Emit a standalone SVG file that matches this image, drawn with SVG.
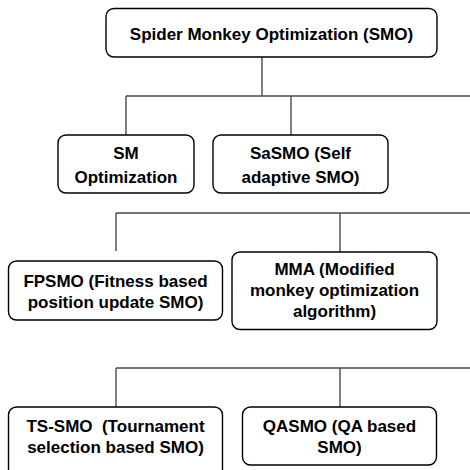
<svg xmlns="http://www.w3.org/2000/svg" width="470" height="470" viewBox="0 0 470 470">
<style>
.box{fill:#fff;stroke:#000;stroke-width:1.4}
.lbl{font-family:"Liberation Sans",Arial,sans-serif;font-weight:bold;font-size:17px;fill:#000;text-anchor:middle;white-space:pre}
.con{fill:none;stroke:#4a4a4a;stroke-width:1.4}
</style>
<rect width="470" height="470" fill="#fff"/>
<g id="connectors">
<path class="con" d="M262,57 V96 M126,96 H470 M126,96 V135 M291,96 V135"/>
<path class="con" d="M116,213 H470 M116,213 V251 M340,213 V252"/>
<path class="con" d="M116,368 H470 M116,368 V407 M340,368 V407"/>
</g>
<g id="smo">
<rect class="box" x="106" y="8.5" width="331" height="48.5" rx="8"/>
<text class="lbl" x="271.5" y="40">Spider Monkey Optimization (SMO)</text>
</g>
<g id="sm">
<rect class="box" x="58" y="135" width="136" height="58" rx="8"/>
<text class="lbl" x="126" y="159">SM</text>
<text class="lbl" x="126" y="182.5">Optimization</text>
</g>
<g id="sasmo">
<rect class="box" x="213" y="135" width="175" height="58" rx="8"/>
<text class="lbl" x="300.5" y="158.5">SaSMO (Self</text>
<text class="lbl" x="300.5" y="182.5">adaptive SMO)</text>
</g>
<g id="fpsmo">
<rect class="box" x="8.5" y="261" width="214" height="59" rx="8"/>
<text class="lbl" x="115.5" y="286.5">FPSMO (Fitness based</text>
<text class="lbl" x="115.5" y="307.5">position update SMO)</text>
</g>
<g id="mma">
<rect class="box" x="232" y="252" width="205" height="77.5" rx="8"/>
<text class="lbl" x="334.5" y="275">MMA (Modified</text>
<text class="lbl" x="334.5" y="296">monkey optimization</text>
<text class="lbl" x="334.5" y="317">algorithm)</text>
</g>
<g id="tssmo">
<rect class="box" x="8.5" y="407" width="214" height="70" rx="8"/>
<text class="lbl" x="115.5" y="431.5">TS-SMO  (Tournament</text>
<text class="lbl" x="115.5" y="453">selection based SMO)</text>
</g>
<g id="qasmo">
<rect class="box" x="242.5" y="407" width="194" height="58" rx="8"/>
<text class="lbl" x="339.5" y="431.5">QASMO (QA based</text>
<text class="lbl" x="339.5" y="453">SMO)</text>
</g>
</svg>
